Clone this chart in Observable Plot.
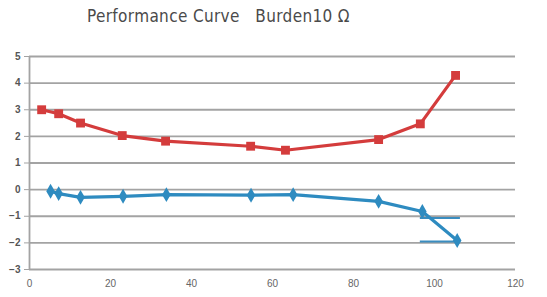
<!DOCTYPE html>
<html><head><meta charset="utf-8">
<script src="https://cdn.jsdelivr.net/npm/d3@7"></script>
<script src="https://cdn.jsdelivr.net/npm/@observablehq/plot@0.6"></script>
<style>
body{margin:0;background:#fff;width:547px;height:297px;overflow:hidden}
#title{height:40px;box-sizing:border-box;padding-left:87px;padding-top:6px;font-family:"DejaVu Sans Condensed","Liberation Sans Narrow",sans-serif;font-size:17px;color:#4a4a4a;letter-spacing:0.35px;white-space:pre}
</style></head><body>
<div id="title"></div>
<div id="chart"></div>
<script>
const title = "Performance Curve   Burden10 Ω";
const redX = [3, 7.2, 12.6, 22.9, 33.6, 54.6, 63.2, 86.2, 96.5, 105.2];
const redY = [3.0, 2.85, 2.5, 2.03, 1.82, 1.63, 1.48, 1.88, 2.47, 4.29];
const blueX = [5.2, 7.2, 12.6, 23.1, 33.8, 54.7, 65.1, 86.2, 97, 105.6];
const blueY = [-0.06, -0.15, -0.29, -0.25, -0.19, -0.21, -0.19, -0.44, -0.82, -1.91];
const segX1 = [96.5, 96.5];
const segX2 = [106.4, 105.8];
const segY = [-1.07, -1.95];
const xTicks = [0, 20, 40, 60, 80, 100, 120];
const yTicks = [-3, -2, -1, 0, 1, 2, 3, 4, 5];

document.getElementById("title").textContent = title;
const red = redX.map((x, i) => ({x, y: redY[i]}));
const blue = blueX.map((x, i) => ({x, y: blueY[i]}));
const segs = segY.map((y, i) => ({x1: segX1[i], x2: segX2[i], y}));

const chart = Plot.plot({
  width: 547, height: 257,
  marginTop: 16, marginBottom: 28, marginLeft: 29, marginRight: 32,
  style: {fontFamily: "Liberation Sans, Arial, sans-serif", fontSize: "10px", color: "#444", background: "#fff"},
  x: {domain: [0, 120], ticks: xTicks, tickSize: 0, tickPadding: 10, label: null},
  y: {domain: [-3, 5], ticks: yTicks, tickSize: 5, tickPadding: 3, label: null},
  marks: [
    Plot.ruleY(yTicks, {stroke: "#a3a3a3", strokeWidth: 1.8}),
    Plot.ruleX([0], {stroke: "#a3a3a3", strokeWidth: 1.8}),
    Plot.axisY({ticks: yTicks, tickSize: 5, stroke: "#a3a3a3", fontWeight: "bold", fill: "#555"}),
    Plot.axisX({ticks: xTicks, tickSize: 0, tickPadding: 10, fill: "#666"}),
    Plot.ruleY(segs, {x1: "x1", x2: "x2", y: "y", stroke: "#3a8dc0", strokeWidth: 2}),
    Plot.line(red, {x: "x", y: "y", stroke: "#d43c3c", strokeWidth: 3.2}),
    Plot.dot(red, {x: "x", y: "y", symbol: "square", r: 5, fill: "#d43c3c"}),
    Plot.line(blue, {x: "x", y: "y", stroke: "#2e8bc0", strokeWidth: 3.2}),
    Plot.dot(blue, {x: "x", y: "y", symbol: "diamond", r: 4.5, fill: "#2e8bc0"})
  ]
});
document.getElementById("chart").appendChild(chart);
</script>
</body></html>
